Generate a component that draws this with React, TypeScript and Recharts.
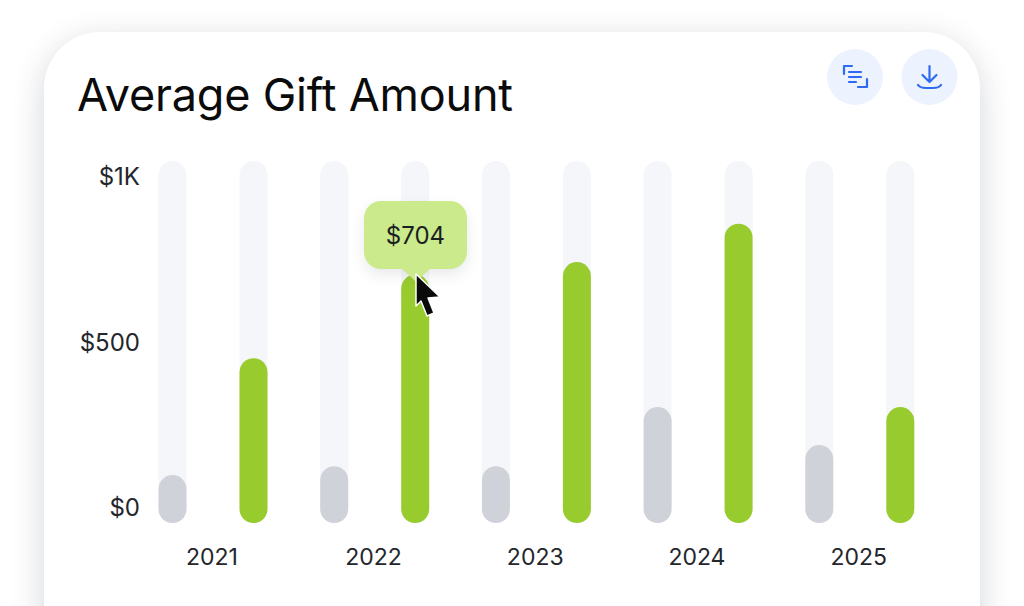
import { BarChart, Bar, XAxis, YAxis, Tooltip } from 'recharts';

const years = ['2021', '2022', '2023', '2024', '2025'];
const priorValues = [97, 124, 124, 303, 188];
const currentValues = [451, 704, 742, 858, 303];
const yTicks = [0, 500, 1000];
const yTickLabels: Record<number, string> = { 0: '$0', 500: '$500', 1000: '$1K' };

// the track and the rounded foot run a little past $0 and $1K
const axisFloor = -48;
const axisCeil = 1048;

const chartData = years.map((year, i) => ({ year, prior: priorValues[i], current: currentValues[i] }));

const FONT = 'Inter, sans-serif';

function GiftTooltip({ payload }: any) {
  const item = payload?.find((p: any) => p.name === 'current');
  if (!item) return null;
  return (
    <div style={{ position: 'relative', width: 103, height: 68, background: '#cbea8c', borderRadius: 17, boxShadow: '0 6px 14px rgba(40,50,70,.10)', display: 'flex', alignItems: 'center', justifyContent: 'center', fontFamily: FONT, fontSize: 24, color: '#1c1f22' }}>
      ${item.payload.current}
      <svg width="30" height="14" style={{ position: 'absolute', left: 37, top: 67 }}>
        <path d="M0 0 H30 L17 12 Q15 14 13 12 Z" fill="#cbea8c" />
      </svg>
    </div>
  );
}

export default function App() {
  return (
    <div style={{ position: 'fixed', left: 0, top: 0, width: 1024, height: 606, overflow: 'hidden', background: '#fff' }}>
      <div style={{ position: 'absolute', left: 44, top: 32, width: 936, height: 640, background: '#fff', borderRadius: 56, boxShadow: '0 8px 32px rgba(40,50,70,.2)' }} />
      <div style={{ position: 'absolute', left: 77, top: 66, fontFamily: FONT, fontSize: 45, lineHeight: '58px', color: '#0b0b0b', letterSpacing: -0.2 }}>
        Average Gift Amount
      </div>

      <svg width="1024" height="120" style={{ position: 'absolute', left: 0, top: 0 }}>
        <circle cx="855" cy="77" r="28" fill="#ecf2fe" />
        <circle cx="929.5" cy="77" r="28" fill="#ecf2fe" />
        <g fill="none" stroke="#2f6bf2" strokeWidth="2.2" strokeLinecap="round" strokeLinejoin="round">
          <path d="M844 74 V66 H852" />
          <path d="M849 72 H861 M849 77 H861 M849 82 H856" />
          <path d="M867 79 V87 H858" />
          <path d="M929.5 66 V82 M922.5 75 L929.5 82 L936.5 75" />
          <path d="M918 85 C920 88 923 88 926 88 H933 C936 88 939 88 941 85" />
        </g>
      </svg>

      <div style={{ position: 'absolute', left: 0, top: 0 }}>
        <BarChart
          width={1024}
          height={606}
          data={chartData}
          margin={{ top: 161, right: 83, bottom: 0, left: 72.5 }}
          barSize={28}
          barGap={53}
        >
          <XAxis
            dataKey="year"
            height={83}
            axisLine={false}
            tickLine={false}
            tickSize={0}
            tickMargin={26}
            tick={{ fontFamily: FONT, fontSize: 23, fill: '#23262b', dx: -1.5 }}
          />
          <YAxis
            width={60}
            type="number"
            domain={[axisFloor, axisCeil]}
            ticks={yTicks}
            axisLine={false}
            tickLine={false}
            tickSize={0}
            tick={{ fontFamily: FONT, fontSize: 24, fill: '#23262b', dx: 9.5 }}
            tickFormatter={(v: number) => yTickLabels[v]}
          />
          <Tooltip
            active
            defaultIndex={1}
            cursor={false}
            isAnimationActive={false}
            position={{ x: 364, y: 201 }}
            allowEscapeViewBox={{ x: true, y: true }}
            wrapperStyle={{ outline: 'none' }}
            content={<GiftTooltip />}
          />
          <Bar
            name="prior"
            dataKey={(d: any) => [axisFloor, d.prior]}
            fill="#cfd2d9"
            radius={14}
            background={{ fill: '#f5f6fa', radius: 14 }}
            isAnimationActive={false}
            activeBar={false}
          />
          <Bar
            name="current"
            dataKey={(d: any) => [axisFloor, d.current]}
            fill="#98cb2e"
            radius={14}
            background={{ fill: '#f5f6fa', radius: 14 }}
            isAnimationActive={false}
            activeBar={false}
          />
        </BarChart>
      </div>

      <svg width="1024" height="606" style={{ position: 'absolute', left: 0, top: 0, pointerEvents: 'none' }}>
        <path d="M416 274 L440 297 L428 298 L434 313 L427 316 L421 301 L416 306 Z" fill="#0a0a0a" stroke="#fff" strokeWidth="1.5" strokeLinejoin="round" />
      </svg>
    </div>
  );
}
